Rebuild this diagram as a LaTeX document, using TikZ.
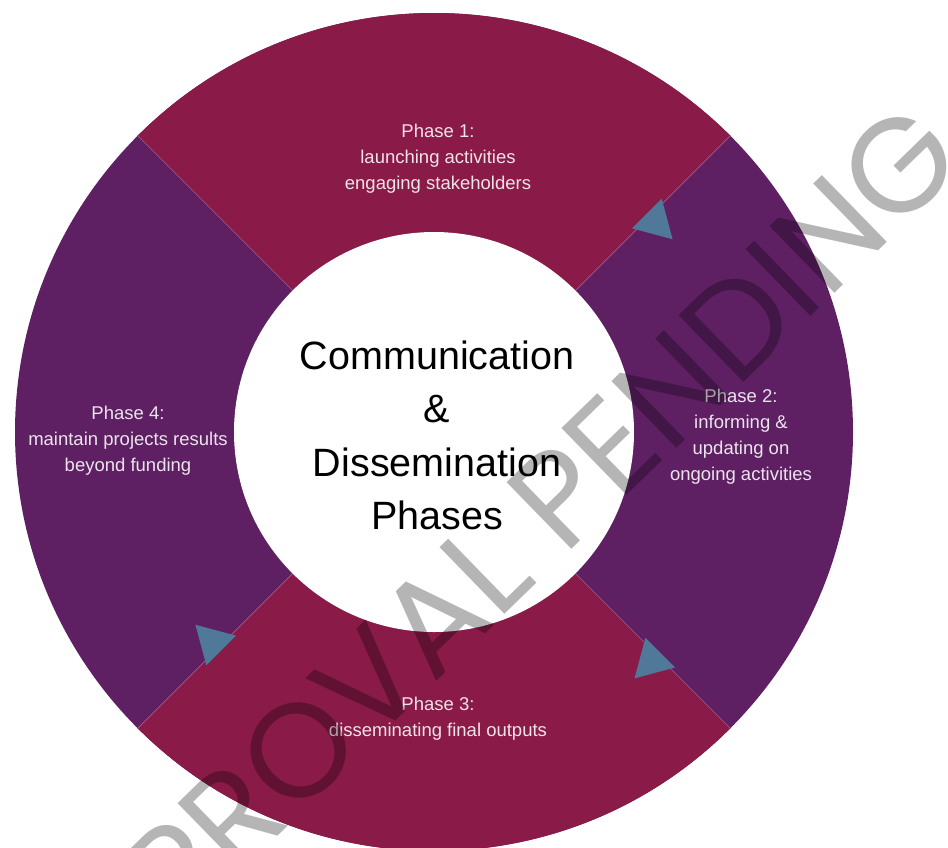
\documentclass[tikz,border=0pt]{standalone}
\usepackage{fontspec}
\setmainfont{Liberation Sans}
\newfontfamily\wmfont{Poppins}
\usetikzlibrary{calc}
\definecolor{ringred}{HTML}{8A1A48}
\definecolor{ringpurple}{HTML}{5E2063}
\definecolor{arrowblue}{HTML}{507898}
\definecolor{seam}{HTML}{A0608A}
\begin{document}
\begin{tikzpicture}[x=1pt,y=-1pt,
  phasetext/.style={text=white, text opacity=0.88, align=center, inner sep=0pt,
    font=\fontsize{18.5}{26}\selectfont},
  centertext/.style={text=black, align=center, inner sep=0pt,
    font=\fontsize{39.5}{53.5}\selectfont},
  wmtext/.style={text=black, text opacity=0.29, inner sep=0pt,
    font=\wmfont\fontsize{133.5}{133.5}\selectfont},
  seamline/.style={draw=seam, line width=0.7pt},
  arrowtri/.style={fill=arrowblue}]
\useasboundingbox (0,0) rectangle (948,847);
\clip (0,0) rectangle (948,847);
\fill[white] (0,0) rectangle (948,847);
\coordinate (c) at (434,432);
% ring
\fill[ringpurple] (c) circle[radius=419];
\fill[ringred] ($(c)+(225:419)$) arc[start angle=225,end angle=315,radius=419]
  -- ($(c)+(315:200)$) arc[start angle=315,end angle=225,radius=200] -- cycle;
\fill[ringred] ($(c)+(45:419)$) arc[start angle=45,end angle=135,radius=419]
  -- ($(c)+(135:200)$) arc[start angle=135,end angle=45,radius=200] -- cycle;
\foreach \a in {45,135,225,315}
  \draw[seamline] ($(c)+(\a:200)$) -- ($(c)+(\a:419)$);
\fill[white] (c) circle[radius=200];
% arrow triangles
\foreach \a/\d/\n [evaluate=\a as \t using \a+90] in {315/305/1, 135/305/2, 45/316/3} {
  \coordinate (tm\n) at ($(c)+(\a:\d)+(\t:-4)$);
  \fill[arrowtri] ($(tm\n)+(\a:21)$) -- ($(tm\n)+(\t:36.4)$) -- ($(tm\n)+(\a:-21)$) -- cycle;
}
% texts
\node[centertext] (title) at (437,435.5) {Communication\\\&\\Dissemination\\Phases};
\node[phasetext] (p1) at (438,159) {Phase 1:\\launching activities\\engaging stakeholders};
\node[phasetext] (p2) at (741,437) {Phase 2:\\informing \&\\updating on\\ongoing activities};
\node[phasetext] (p3) at (438,719) {Phase 3:\\disseminating final outputs};
\node[phasetext] (p4) at (128,441) {Phase 4:\\maintain projects results\\beyond funding};
% watermark
\node[wmtext, rotate=44.2] (wm) at (482,572) {APPROVAL PENDING};
\end{tikzpicture}
\end{document}
